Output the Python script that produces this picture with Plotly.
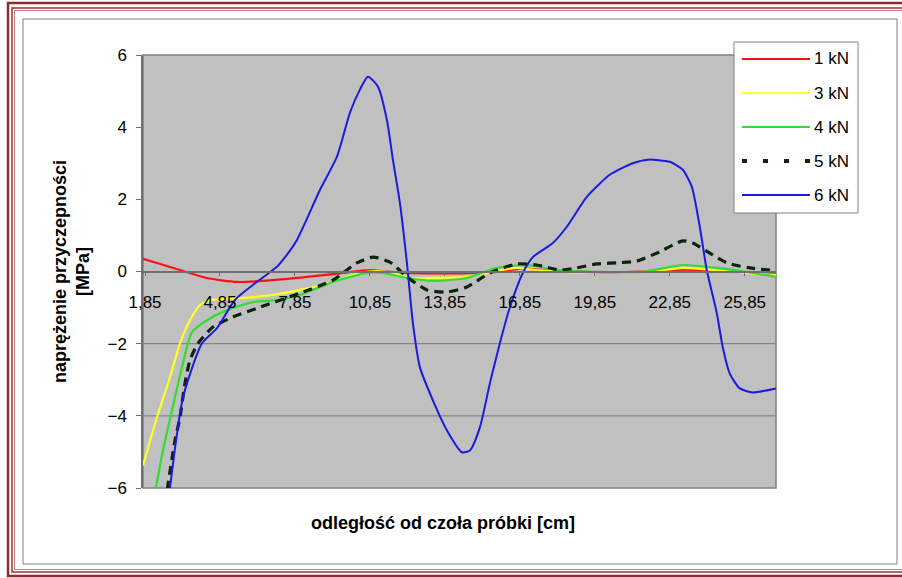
import plotly.graph_objects as go

# ---------------- data ----------------
x_1kN = [1.77, 2.5, 3.25, 4.33, 5.53, 6.97, 8.33, 9.65, 10.85, 11.77, 13.0, 14.5, 15.8, 16.9, 18.0, 19.5, 21.0, 22.5, 23.5, 24.5, 25.5, 26.5, 27.1]
y_1kN = [0.35, 0.2, 0.04, -0.18, -0.29, -0.24, -0.15, -0.05, 0.04, -0.02, -0.05, -0.05, -0.02, 0.08, 0.03, -0.01, -0.02, 0.03, 0.05, 0.02, -0.02, -0.05, -0.08]

x_3kN = [1.77, 2.33, 2.85, 3.25, 3.65, 4.05, 4.5, 5.65, 6.97, 8.05, 9.37, 10.45, 11.13, 11.77, 12.45, 13.37, 14.73, 15.77, 16.73, 17.6, 18.5, 20.0, 21.5, 22.5, 23.37, 24.5, 25.5, 26.5, 27.1]
y_3kN = [-5.38, -4.04, -2.93, -1.99, -1.35, -0.93, -0.79, -0.74, -0.65, -0.51, -0.29, -0.04, 0.01, -0.04, -0.18, -0.18, -0.15, -0.01, 0.1, 0.03, -0.01, -0.02, -0.02, 0.03, 0.1, 0.05, -0.02, -0.07, -0.1]

x_4kN = [2.27, 2.57, 2.93, 3.33, 3.73, 4.33, 5.13, 6.17, 7.13, 8.05, 9.37, 10.73, 11.37, 12.33, 13.37, 14.73, 15.93, 17.13, 18.33, 20.05, 21.77, 23.37, 24.73, 26.0, 27.1]
y_4kN = [-6.05, -4.96, -3.85, -2.65, -1.68, -1.35, -1.07, -0.85, -0.79, -0.65, -0.29, -0.04, -0.04, -0.18, -0.26, -0.18, 0.1, 0.18, 0.04, -0.01, -0.01, 0.18, 0.1, -0.02, -0.15]

x_5kN = [2.74, 3.05, 3.25, 3.45, 3.65, 3.97, 4.57, 5.37, 6.45, 8.05, 9.37, 10.33, 10.97, 11.65, 12.33, 13.13, 13.93, 14.73, 15.65, 16.73, 17.53, 18.45, 19.13, 19.93, 20.73, 21.53, 22.33, 23.37, 23.77, 24.45, 25.13, 26.05, 27.1]
y_5kN = [-6.05, -4.68, -4.04, -3.1, -2.46, -1.99, -1.54, -1.26, -0.99, -0.6, -0.24, 0.24, 0.4, 0.26, -0.15, -0.51, -0.57, -0.43, -0.04, 0.21, 0.18, 0.04, 0.1, 0.21, 0.24, 0.29, 0.51, 0.85, 0.79, 0.51, 0.24, 0.1, 0.02]

x_6kN = [2.84, 3.37, 4.13, 4.73, 5.45, 6.4, 7.13, 7.37, 7.93, 8.85, 9.53, 10.05, 10.45, 10.77, 11.17, 11.53, 11.77, 12.05, 12.33, 12.57, 12.85, 13.37, 13.93, 14.53, 14.85, 15.25, 15.65, 16.05, 16.45, 16.97, 17.37, 18.17, 18.73, 19.53, 20.45, 21.37, 21.97, 22.85, 23.37, 23.73, 24.05, 24.33, 24.73, 24.97, 25.25, 25.65, 26.17, 27.1]
y_6kN = [-6.05, -3.49, -1.99, -1.57, -0.79, -0.25, 0.13, 0.32, 0.875, 2.26, 3.18, 4.4, 5.04, 5.4, 5.13, 4.2, 3.1, 1.9, 0.24, -1.43, -2.65, -3.57, -4.4, -5.01, -4.96, -4.32, -3.1, -1.99, -0.99, -0.04, 0.4, 0.79, 1.24, 2.07, 2.68, 3.0, 3.1, 3.04, 2.82, 2.35, 1.24, 0.04, -1.15, -2.1, -2.83, -3.24, -3.35, -3.24]

x_ticks = [1.85, 4.85, 7.85, 10.85, 13.85, 16.85, 19.85, 22.85, 25.85]
x_tick_labels = ["1,85", "4,85", "7,85", "10,85", "13,85", "16,85", "19,85", "22,85", "25,85"]
y_ticks = [-6, -4, -2, 0, 2, 4, 6]
grid_y = [-2, -4]

series_names = ["1 kN", "3 kN", "4 kN", "5 kN", "6 kN"]
series_x = [x_1kN, x_3kN, x_4kN, x_5kN, x_6kN]
series_y = [y_1kN, y_3kN, y_4kN, y_5kN, y_6kN]
series_colors = ["#FF1010", "#FFFF20", "#30DD30", "#0A250A", "#1A1AE0"]
series_widths = [2.2, 2.2, 2.2, 3.2, 2]
series_dash = ["solid", "solid", "solid", "9px,6px", "solid"]

# ---------------- layout helpers ----------------
W, H = 902, 578
L, R, T, B = 143, 126, 55, 90
PW, PH = W - L - R, H - T - B


def px(x):
    return (x - L) / PW


def py(y):
    return (H - B - y) / PH


FONT = "Liberation Sans, Arial, sans-serif"

fig = go.Figure()
for name, xs, ys, c, w, d in zip(series_names, series_x, series_y, series_colors, series_widths, series_dash):
    fig.add_trace(go.Scatter(x=xs, y=ys, mode="lines", name=name,
                             line=dict(color=c, width=w, dash=d, shape="spline", smoothing=0.6),
                             showlegend=False))

shapes = []
# plot-area border
shapes.append(dict(type="rect", xref="paper", yref="paper", x0=0, y0=0, x1=1, y1=1,
                   line=dict(color="#808080", width=1.5), layer="below"))
# grid lines
for g in grid_y:
    shapes.append(dict(type="line", xref="paper", yref="y", x0=0, x1=1, y0=g, y1=g,
                       line=dict(color="#858585", width=1.2), layer="below"))
# outer frames
shapes.append(dict(type="rect", xref="paper", yref="paper", x0=px(23), y0=py(19), x1=px(897), y1=py(564),
                   line=dict(color="#7F7F7F", width=1)))
shapes.append(dict(type="rect", xref="paper", yref="paper", x0=px(8), y0=py(3), x1=px(915), y1=py(576),
                   line=dict(color="#8E2B2B", width=2.5)))
shapes.append(dict(type="rect", xref="paper", yref="paper", x0=px(12), y0=py(8), x1=px(915), y1=py(572),
                   line=dict(color="#9A3434", width=1.5)))
shapes.append(dict(type="rect", xref="paper", yref="paper", x0=px(14.5), y0=py(10.5), x1=px(915), y1=py(569.5),
                   line=dict(color="#B06060", width=0.8)))

# manual legend
shapes.append(dict(type="rect", xref="paper", yref="paper", x0=px(734), y0=py(42), x1=px(858), y1=py(213),
                   line=dict(color="#808080", width=1), fillcolor="white"))
leg_rows = [59, 93, 127, 161, 195]
annotations = []
for name, c, w, d, ry in zip(series_names, series_colors, series_widths, series_dash, leg_rows):
    if d == "solid":
        shapes.append(dict(type="line", xref="paper", yref="paper", x0=px(742), x1=px(810), y0=py(ry), y1=py(ry),
                           line=dict(color=c, width=2)))
    else:
        shapes.append(dict(type="line", xref="paper", yref="paper", x0=px(742), x1=px(812), y0=py(ry), y1=py(ry),
                           line=dict(color=c, width=4, dash="5px,16px")))
    annotations.append(dict(xref="paper", yref="paper", x=px(812), y=py(ry), text=name, showarrow=False,
                            xanchor="left", yanchor="middle", font=dict(family=FONT, size=17, color="black")))

# axis titles
annotations.append(dict(xref="paper", yref="paper", x=px(443), y=py(523), text="<b>odległość od czoła próbki [cm]</b>",
                        showarrow=False, xanchor="center", yanchor="middle",
                        font=dict(family=FONT, size=18, color="black")))
annotations.append(dict(xref="paper", yref="paper", x=px(71), y=py(272),
                        text="<b>naprężenie przyczepności<br>[MPa]</b>", textangle=-90,
                        showarrow=False, xanchor="center", yanchor="middle",
                        font=dict(family=FONT, size=18, color="black")))

fig.update_layout(
    width=W, height=H,
    margin=dict(l=L, r=R, t=T, b=B, autoexpand=False),
    paper_bgcolor="white", plot_bgcolor="#C0C0C0",
    shapes=shapes, annotations=annotations,
    xaxis=dict(range=[1.77, 27.1], tickmode="array", tickvals=x_ticks, ticktext=x_tick_labels,
               anchor="free", position=0.5, showgrid=False, zeroline=False,
               showline=True, linecolor="#707070", linewidth=1.5,
               ticks="outside", ticklen=4, tickcolor="#707070",
               ticklabelstandoff=11,
               tickfont=dict(family=FONT, size=17, color="black")),
    yaxis=dict(range=[-6, 6], tickmode="array", tickvals=y_ticks, showgrid=False, zeroline=False,
               showline=True, linecolor="#707070", linewidth=1.5,
               ticks="outside", ticklen=5, tickcolor="#707070", ticklabelstandoff=6,
               tickfont=dict(family=FONT, size=17, color="black")),
    showlegend=False,
)

fig.write_html("out.html")
